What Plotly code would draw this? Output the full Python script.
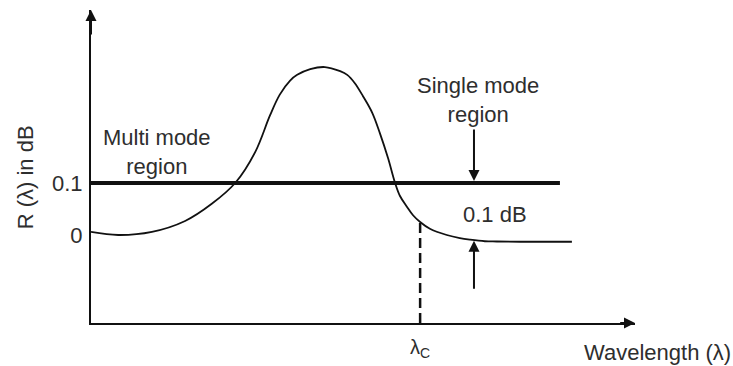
import plotly.graph_objects as go

# Reflectance curve R(λ) across wavelength (arbitrary units)
wavelength = [0.00, 0.50, 1.12, 1.73, 2.22, 2.65, 3.02, 3.29, 3.47, 3.66, 3.79,
              4.03, 4.30, 4.58, 4.71, 4.85, 5.00, 5.17, 5.31, 5.46, 5.59, 5.68,
              5.81, 5.92, 6.05, 6.23, 6.54, 6.78, 6.97, 7.24, 7.46, 7.89, 8.84]
r_db = [0.006, 0.000, 0.006, 0.027, 0.060, 0.100, 0.160, 0.230, 0.270, 0.297, 0.308,
        0.319, 0.323, 0.315, 0.308, 0.292, 0.267, 0.235, 0.196, 0.148, 0.100, 0.075,
        0.054, 0.038, 0.025, 0.012, 0.000, -0.006, -0.009, -0.012, -0.0125, -0.013, -0.013]

threshold_db = 0.1          # single/multi mode boundary
threshold_x = [0.0, 8.62]
cutoff_lambda = 6.05        # λc
cutoff_r = 0.025
tick_vals = [0, 0.1]
tick_text = ["0", "0.1"]

x_range = [0, 10]
y_range = [-0.1692, 0.4327]

ink = "#111111"
text_col = "#2e2e2e"
family = "Liberation Sans, Arial, sans-serif"
font = dict(family=family, size=22, color=text_col)

fig = go.Figure()

# Threshold line at 0.1 dB
fig.add_trace(go.Scatter(x=threshold_x, y=[threshold_db, threshold_db], mode="lines",
                         line=dict(color=ink, width=4), hoverinfo="skip"))

# Dashed marker at the cut-off wavelength
fig.add_trace(go.Scatter(x=[cutoff_lambda, cutoff_lambda], y=[y_range[0], cutoff_r],
                         mode="lines", line=dict(color=ink, width=2.5, dash="10px,5px"),
                         hoverinfo="skip"))

# R(λ) curve
fig.add_trace(go.Scatter(x=wavelength, y=r_db, mode="lines",
                         line=dict(color=ink, width=1.8, shape="spline", smoothing=1.0),
                         hoverinfo="skip"))

arrow = dict(showarrow=True, arrowhead=2, arrowwidth=2, arrowsize=1.1, arrowcolor=ink,
             text="", axref="x", ayref="y", xref="x", yref="y", standoff=0)

annotations = [
    # axis arrowheads
    dict(x=0, y=y_range[1], ax=0, ay=y_range[1] - 0.05, **arrow),
    dict(x=x_range[1], y=y_range[0], ax=x_range[1] - 0.3, ay=y_range[0], **arrow),
    # 0.1 dB gap indicators
    dict(x=7.04, y=0.104, ax=7.04, ay=0.206, **arrow),
    dict(x=7.04, y=-0.011, ax=7.04, ay=-0.106, **arrow),
    # labels
    dict(x=1.21, y=0.1606, xref="x", yref="y", text="Multi mode<br>region",
         showarrow=False, font=font, align="center"),
    dict(x=7.11, y=0.2606, xref="x", yref="y", text="Single mode<br>region",
         showarrow=False, font=font, align="center"),
    dict(x=7.43, y=0.0385, xref="x", yref="y", text="0.1 dB",
         showarrow=False, font=font),
    dict(x=1.18, y=-0.0958, xref="paper", yref="paper", text="Wavelength (λ)",
         showarrow=False, font=font, xanchor="right", yanchor="middle"),
    dict(x=-0.121, y=0.466, xref="paper", yref="paper", text="R (λ) in dB",
         showarrow=False, font=font, textangle=-90, xanchor="center", yanchor="middle"),
]

fig.update_layout(
    width=733, height=366,
    margin=dict(l=91, r=98, t=10, b=43, autoexpand=False),
    paper_bgcolor="white", plot_bgcolor="white",
    showlegend=False,
    annotations=annotations,
    xaxis=dict(range=x_range, showgrid=False, zeroline=False, showline=True,
               automargin=False, linecolor=ink, linewidth=2, tickvals=[cutoff_lambda],
               ticktext=["λ<sub>C</sub>"], ticks="", ticklabelstandoff=5,
               tickfont=dict(family=family, size=20, color=text_col)),
    yaxis=dict(range=y_range, showgrid=False, zeroline=False, showline=True,
               automargin=False, linecolor=ink, linewidth=2, tickvals=tick_vals,
               ticktext=tick_text, ticks="", ticklabelstandoff=2, tickfont=font),
)

fig.write_html("out.html")
